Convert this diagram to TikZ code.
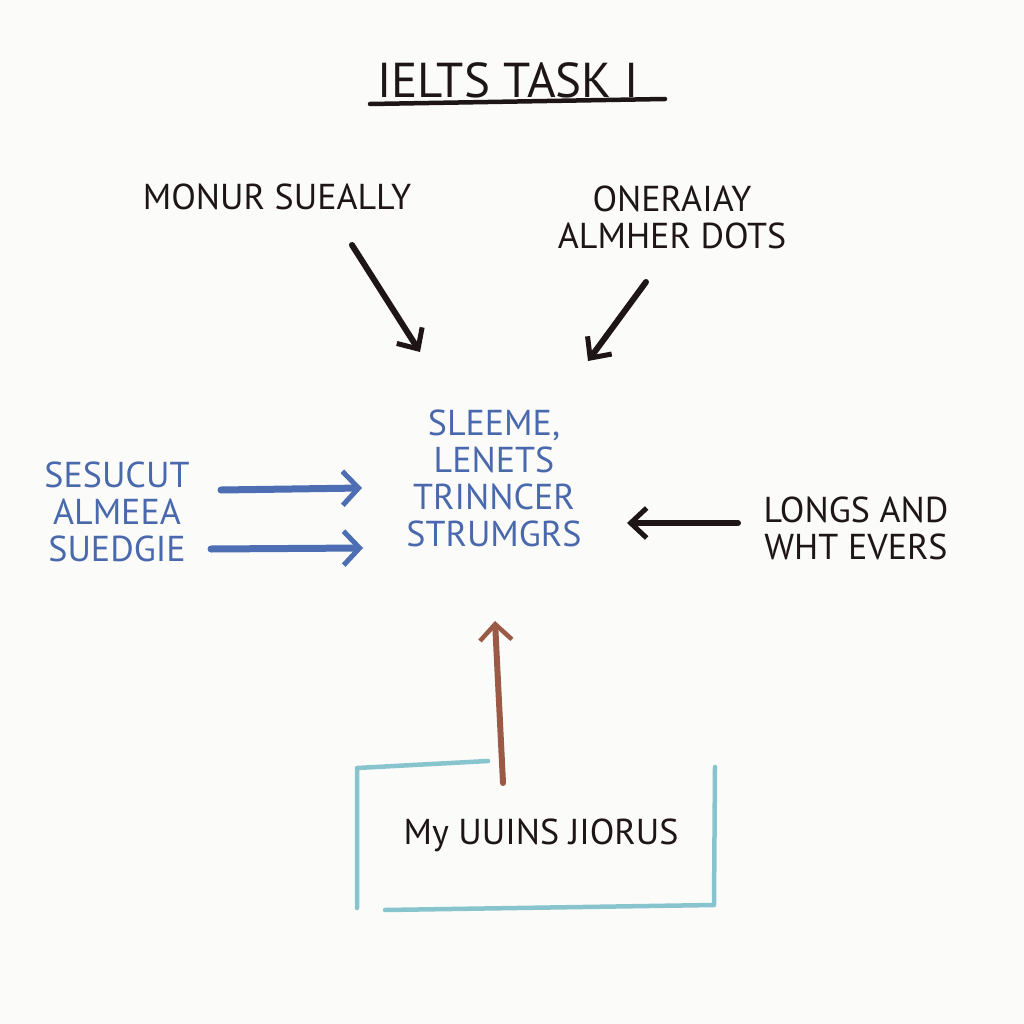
\documentclass[tikz,border=0pt]{standalone}
\usepackage{fontspec}
\setmainfont{PT Sans}
\usetikzlibrary{arrows.meta}
\definecolor{ink}{HTML}{1E1616}
\definecolor{blueink}{HTML}{4A69AC}
\definecolor{bluearrow}{HTML}{4D6EB3}
\definecolor{brownink}{HTML}{9A5A46}
\definecolor{tealink}{HTML}{88C4CE}
\definecolor{paper}{HTML}{FBFBFA}
\begin{document}
\begin{tikzpicture}[x=1pt,y=-1pt,
  lbl/.style={font=\fontsize{36}{37}\selectfont, inner sep=0pt, align=center, text=ink},
  bluelbl/.style={lbl, text=blueink},
  titlelbl/.style={font=\fontsize{49}{54}\selectfont, inner sep=0pt, text=ink},
  inkarrow/.style={draw=ink, line width=6pt, line cap=round, -{Straight Barb[length=16pt,width=30pt,line width=5pt]}},
  bluearr/.style={draw=bluearrow, line width=7pt, line cap=round, -{Straight Barb[length=16pt,width=34pt,line width=5pt]}},
  brownarr/.style={draw=brownink, line width=6pt, line cap=round, -{Straight Barb[length=16pt,width=32pt,line width=4.5pt]}},
  boxline/.style={draw=tealink, line width=4.5pt, line cap=round, line join=round}
]
\useasboundingbox[fill=paper] (0,0) rectangle (1024,1024);

% title
\node[titlelbl] (title) at (508,80) {IELTS TASK I};
\draw[ink, line width=4.5pt, line cap=round] (370,104) -- (665,99);

% top labels
\node[lbl] (monur) at (277,197) {MONUR SUEALLY};
\node[lbl] (oner) at (672,217) {ONERAIAY\\ALMHER DOTS};

% center
\node[bluelbl] (center) at (494,478) {SLEEME,\\ LENETS\\TRINNCER\\STRUMGRS};

% left
\node[bluelbl] (left) at (117,512) {SESUCUT\\ALMEEA\\SUEDGIE};

% right
\node[lbl] (right) at (856,528) {LONGS AND\\WHT EVERS};

% bottom box
\node[lbl] (mybox) at (541,835) {My UUINS JIORUS};
\draw[boxline] (357,908) -- (357,768) -- (488,761);
\draw[boxline] (715,767) -- (714,905) -- (385,910);

% arrow anchors
\coordinate (a1s) at (352,245);
\coordinate (a1e) at (420,352);
\coordinate (a2s) at (646,282);
\coordinate (a2e) at (588,361);
\coordinate (l1s) at (221,490);
\coordinate (l1e) at (362,488);
\coordinate (l2s) at (211,549);
\coordinate (l2e) at (363,548);
\coordinate (rs) at (738,523);
\coordinate (re) at (627,523);
\coordinate (bs) at (503,783);
\coordinate (be) at (495,621);

\draw[inkarrow] (a1s) -- (a1e);
\draw[inkarrow] (a2s) -- (a2e);
\draw[bluearr] (l1s) -- (l1e);
\draw[bluearr] (l2s) -- (l2e);
\draw[inkarrow] (rs) -- (re);
\draw[brownarr] (bs) -- (be);
\end{tikzpicture}
\end{document}
